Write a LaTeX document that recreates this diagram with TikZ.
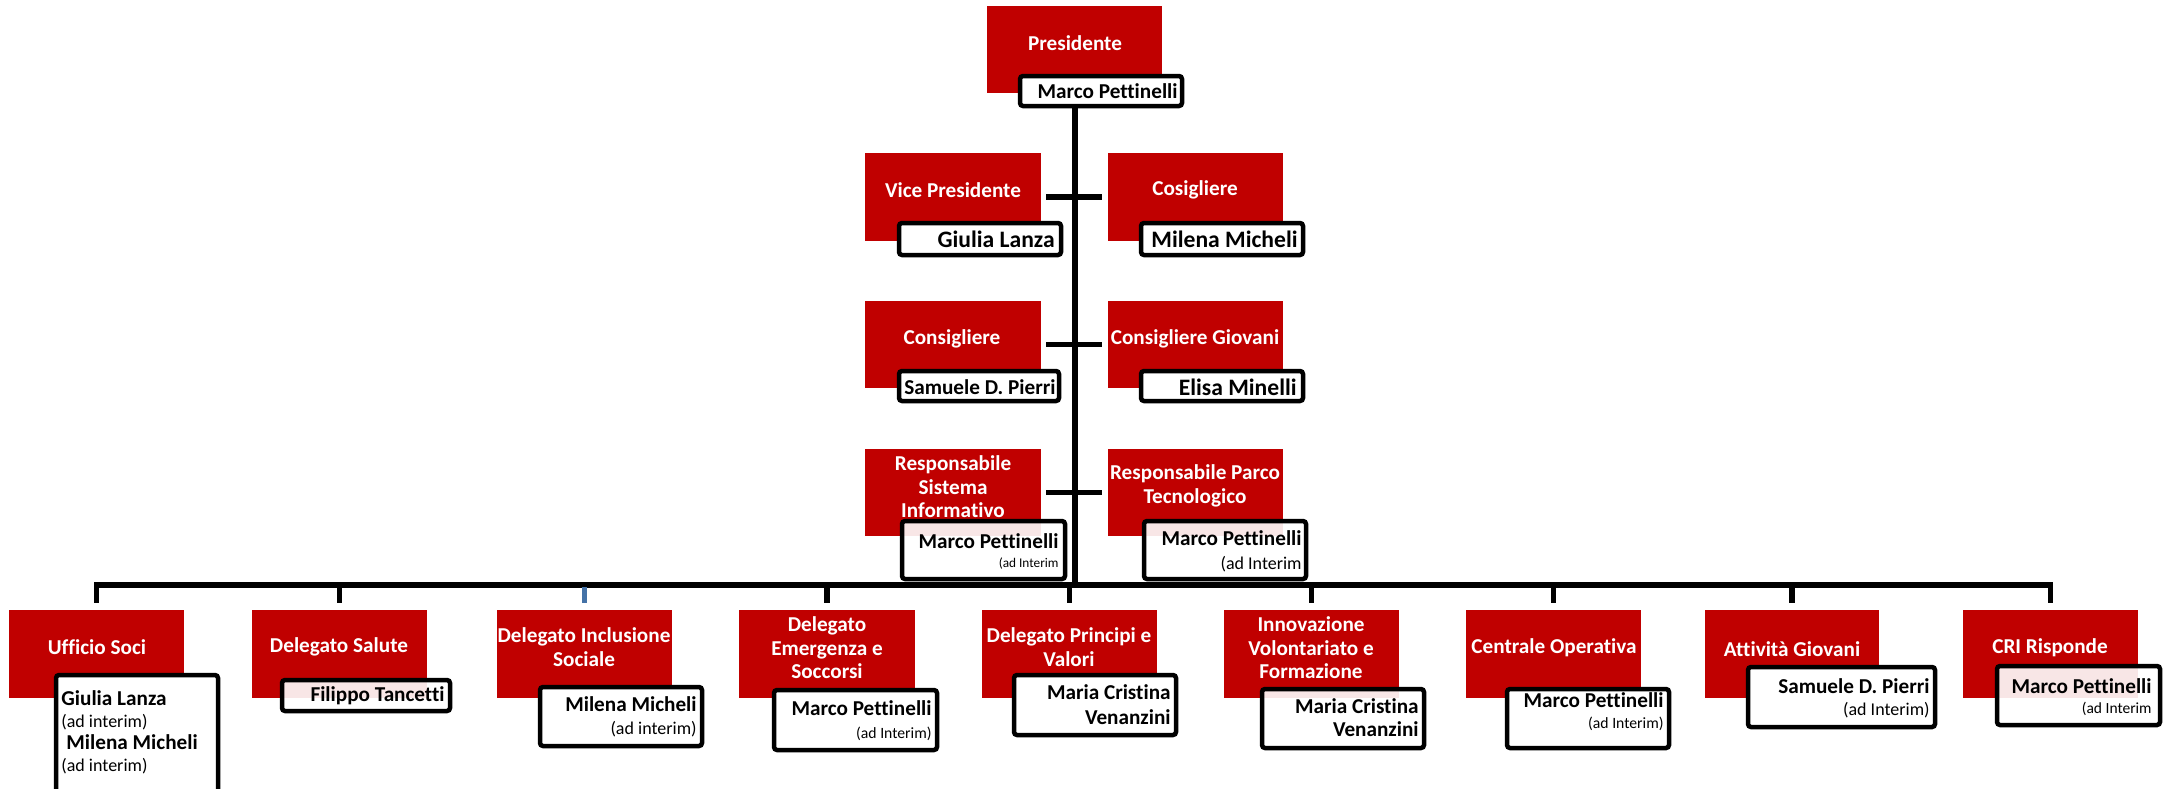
\documentclass[tikz,border=0pt]{standalone}
\usepackage{fontspec}
\setmainfont[Ligatures=CommonOff]{Carlito}
\usetikzlibrary{fit}
\definecolor{crired}{RGB}{192,0,0}
\definecolor{dropblue}{RGB}{68,114,167}
\tikzset{
  redbox/.style={fill=crired, draw=none, inner sep=0pt},
  whitebox/.style={fill=white, draw=black, line width=2.25pt, rounded corners=1.5pt, inner sep=0pt},
  pinkbox/.style={whitebox, fill opacity=0.9, draw opacity=1},
  title/.style={text=white, font=\bfseries\fontsize{10.6}{11.75}\selectfont, align=center, inner sep=0pt},
  person/.style={text=black, font=\bfseries\fontsize{10.6}{12}\selectfont, align=right, inner sep=0pt, anchor=east},
  bigperson/.style={person, font=\bfseries\fontsize{11.8}{12}\selectfont},
  conn/.style={draw=black, line width=2.6pt},
}
\newcommand{\smalltxt}[2]{{\mdseries\fontsize{#1}{#1}\selectfont #2}}
\begin{document}
\begin{tikzpicture}[x=0.5pt,y=-0.5pt]
\useasboundingbox (0,0) rectangle (2163,788);
\clip (0,0) rectangle (2163,788);
% ---------- red boxes ----------
\node[redbox, fit={(987,6)(1162,93)}] (pres) {};
\node[redbox, fit={(865,153)(1041,241)}] (vp) {};
\node[redbox, fit={(1108,153)(1283,241)}] (cos) {};
\node[redbox, fit={(865,301)(1041,388)}] (cons) {};
\node[redbox, fit={(1108,301)(1283,388)}] (cg) {};
\node[redbox, fit={(865,449)(1041,536)}] (rsi) {};
\node[redbox, fit={(1108,449)(1283,536)}] (rpt) {};
\node[redbox, fit={(9,610)(184,698)}] (uff) {};
\node[redbox, fit={(252,610)(427,698)}] (sal) {};
\node[redbox, fit={(497,610)(672,698)}] (inc) {};
\node[redbox, fit={(739,610)(915,698)}] (eme) {};
\node[redbox, fit={(982,610)(1157,698)}] (pri) {};
\node[redbox, fit={(1224,610)(1399,698)}] (inn) {};
\node[redbox, fit={(1466,610)(1641,698)}] (cen) {};
\node[redbox, fit={(1705,610)(1879,698)}] (att) {};
\node[redbox, fit={(1963,610)(2138,698)}] (cri) {};
% ---------- titles ----------
\node[title] (presT) at (1075,43) {Presidente};
\node[title] (vpT) at (953,190) {Vice Presidente};
\node[title] (cosT) at (1195,190) {Cosigliere};
\node[title] (consT) at (952,339) {Consigliere};
\node[title] (cgT) at (1195,339) {Consigliere Giovani};
\node[title] (rsiT) at (953,487) {Responsabile\\Sistema\\Informativo};
\node[title] (rptT) at (1195,486) {Responsabile Parco\\Tecnologico};
\node[title] (uffT) at (97,647) {Ufficio Soci};
\node[title] (salT) at (339,647) {Delegato Salute};
\node[title] (incT) at (584,647) {Delegato Inclusione\\Sociale};
\node[title] (emeT) at (827,648) {Delegato\\Emergenza e\\Soccorsi};
\node[title] (priT) at (1069,647) {Delegato Principi e\\Valori};
\node[title] (innT) at (1311,648) {Innovazione\\Volontariato e\\Formazione};
\node[title] (cenT) at (1554,648) {Centrale Operativa};
\node[title] (attT) at (1792,649) {Attività Giovani};
\node[title] (criT) at (2050,648) {CRI Risponde};
% ---------- connectors ----------
\coordinate (bus) at (1075,585);
\draw[conn, line width=3pt] (pres.south |- 0,106) -- (pres.south |- bus);
\draw[conn] ([xshift=2.5pt]vp.east) -- ([xshift=-3pt]cos.west);
\draw[conn] ([xshift=2.5pt]cons.east) -- ([xshift=-3pt]cg.west);
\draw[conn] ([xshift=2.5pt]rsi.east) -- ([xshift=-3pt]rpt.west);
\draw[conn] ([yshift=3.5pt]uff.north) |- (cri.north |- bus) -- ([yshift=3.5pt]cri.north);
\draw[conn] (sal.north |- bus) -- ([yshift=3.5pt]sal.north);
\draw[conn, draw=dropblue] ([yshift=-1.2pt]inc.north |- bus) -- ([yshift=3.5pt]inc.north);
\draw[conn] (eme.north |- bus) -- ([yshift=3.5pt]eme.north);
\draw[conn] (pri.north |- bus) -- ([yshift=3.5pt]pri.north);
\draw[conn] (inn.north |- bus) -- ([yshift=3.5pt]inn.north);
\draw[conn] (cen.north |- bus) -- ([yshift=3.5pt]cen.north);
\draw[conn] (att.north |- bus) -- ([yshift=3.5pt]att.north);
% ---------- white boxes ----------
\node[whitebox, fit={(1020,76)(1182,106)}] (presW) {};
\node[whitebox, fit={(899,223)(1061,255)}] (vpW) {};
\node[whitebox, fit={(1141,223)(1303,255)}] (cosW) {};
\node[whitebox, fit={(899,371)(1059,401)}] (consW) {};
\node[whitebox, fit={(1141,371)(1303,401)}] (cgW) {};
\node[pinkbox, fit={(902,521)(1065,579)}] (rsiW) {};
\node[pinkbox, fit={(1144,521)(1306,579)}] (rptW) {};
\node[whitebox, fit={(56,675)(218,800)}] (uffW) {};
\node[pinkbox, fit={(282,680)(450,711)}] (salW) {};
\node[whitebox, fit={(540,687)(702,746)}] (incW) {};
\node[whitebox, fit={(774,690)(937,750)}] (emeW) {};
\node[whitebox, fit={(1014,675)(1176,735)}] (priW) {};
\node[pinkbox, fit={(1262,689)(1424,748)}] (innW) {};
\node[whitebox, fit={(1507,689)(1669,748)}] (cenW) {};
\node[whitebox, fit={(1748,667)(1935,727)}] (attW) {};
\node[pinkbox, fit={(1997,666)(2160,725)}] (criW) {};
% ---------- names ----------
\node[person] (presN) at (1178,91) {Marco Pettinelli};
\node[bigperson] (vpN) at (1055,239) {Giulia Lanza};
\node[bigperson] (cosN) at (1298,239) {Milena Micheli};
\node[person] (consN) at (1056,387) {Samuele D. Pierri};
\node[bigperson] (cgN) at (1297,387) {Elisa Minelli};
\node[person, font=\bfseries\fontsize{10.6}{9.5}\selectfont] (rsiN) at (1059,551) {Marco Pettinelli\\\smalltxt{6.65}{(ad Interim}};
\node[person, font=\bfseries\fontsize{10.6}{12}\selectfont] (rptN) at (1302,551) {Marco Pettinelli\\\smalltxt{9}{(ad Interim}};
\node[person, anchor=west, align=left, font=\fontsize{10.6}{11}\selectfont] (uffN) at (61,732)
  {\textbf{Giulia Lanza}\\\smalltxt{9}{(ad interim)}\\\hspace{2.5pt}\textbf{Milena Micheli}\\\smalltxt{9}{(ad interim)}};
\node[person] (salN) at (445,696) {Filippo Tancetti};
\node[person, font=\bfseries\fontsize{10.6}{11.5}\selectfont] (incN) at (697,717) {Milena Micheli\\\smalltxt{9}{(ad interim)}};
\node[person, font=\bfseries\fontsize{10.6}{11.5}\selectfont] (emeN) at (932,721) {Marco Pettinelli\\\smalltxt{7.85}{(ad Interim)}};
\node[person, font=\bfseries\fontsize{10.6}{12.5}\selectfont] (priN) at (1171,705) {Maria Cristina\\Venanzini};
\node[person, font=\bfseries\fontsize{10.6}{11.5}\selectfont] (innN) at (1419,718) {Maria Cristina\\Venanzini};
\node[person, font=\bfseries\fontsize{10.6}{10.5}\selectfont] (cenN) at (1664,712) {Marco Pettinelli\\\smalltxt{7.85}{(ad Interim)}};
\node[person, font=\bfseries\fontsize{10.6}{11}\selectfont] (attN) at (1930,698) {Samuele D. Pierri\\\smalltxt{9}{(ad Interim)}};
\node[person, font=\bfseries\fontsize{10.6}{10}\selectfont] (criN) at (2152,697) {Marco Pettinelli\\\smalltxt{7.75}{(ad Interim}};
\end{tikzpicture}
\end{document}
